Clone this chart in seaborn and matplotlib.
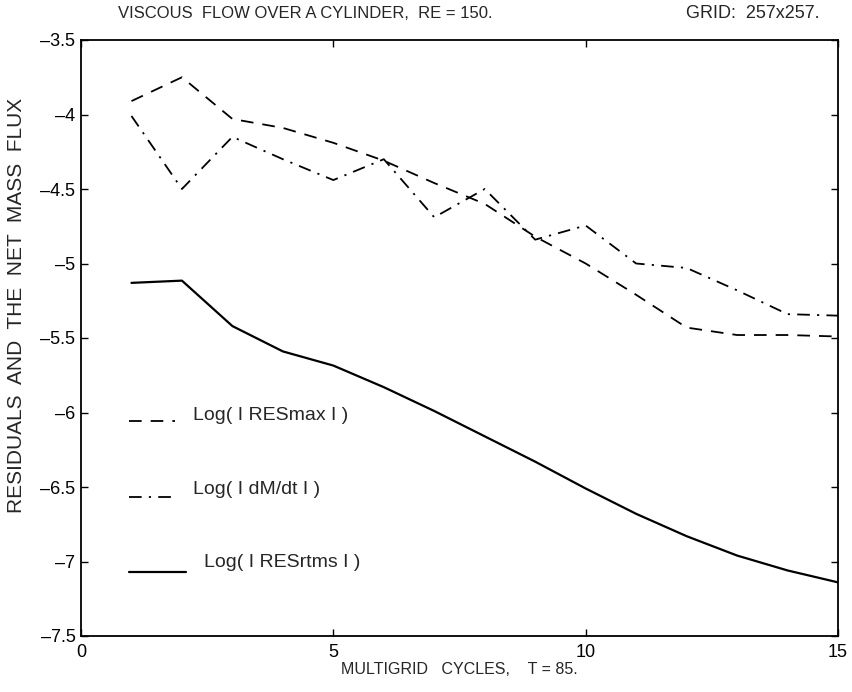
import numpy as np
import pandas as pd
import matplotlib
matplotlib.use("Agg")
import matplotlib.pyplot as plt
import seaborn as sns

# Multigrid cycle number
cycles = [1, 2, 3, 4, 5, 6, 7, 8, 9, 10, 11, 12, 13, 14, 15]

# log10 of the residuals and of the net mass flux
log_res_max = [-3.91, -3.75, -4.03, -4.09, -4.19, -4.31, -4.46, -4.60, -4.82, -5.00, -5.21, -5.43, -5.48, -5.48, -5.49]
log_dm_dt = [-4.01, -4.50, -4.15, -4.30, -4.44, -4.30, -4.69, -4.50, -4.84, -4.745, -5.00, -5.03, -5.18, -5.34, -5.35]
log_res_rms = [-5.13, -5.115, -5.42, -5.59, -5.685, -5.83, -5.99, -6.16, -6.33, -6.51, -6.68, -6.83, -6.96, -7.06, -7.14]

legend_labels = ["Log( I RESmax I )", "Log( I dM/dt I )", "Log( I RESrtms I )"]
x_ticks = [0, 5, 10, 15]
y_ticks = [-7.5, -7, -6.5, -6, -5.5, -5, -4.5, -4, -3.5]
y_tick_labels = ["\u20137.5", "\u20137", "\u20136.5", "\u20136", "\u20135.5",
                 "\u20135", "\u20134.5", "\u20134", "\u20133.5"]

sns.set_style("ticks")
plt.rcParams["font.family"] = ["Liberation Sans", "DejaVu Sans"]

W, H = 852, 692
fig = plt.figure(figsize=(W / 100, H / 100), dpi=100)
L, R, T, B = 81, 838, 40, 636
ax = fig.add_axes([L / W, 1 - B / H, (R - L) / W, (B - T) / H])

df = pd.DataFrame({
    "cycle": cycles * 3,
    "value": log_res_max + log_dm_dt + log_res_rms,
    "series": [legend_labels[0]] * 15 + [legend_labels[1]] * 15 + [legend_labels[2]] * 15,
})

styles = {
    legend_labels[0]: dict(ls=(0, (7, 5)), lw=1.3),
    legend_labels[1]: dict(ls=(0, (7, 4, 1.2, 4)), lw=1.3),
    legend_labels[2]: dict(ls="-", lw=1.6),
}

for name, st in styles.items():
    sub = df[df["series"] == name]
    sns.lineplot(data=sub, x="cycle", y="value", ax=ax, color="black",
                 linestyle=st["ls"], linewidth=st["lw"], legend=False)

# in-plot key: line sample followed by its label
key_rows = [
    (legend_labels[0], -6.06, -6.02, 2.22, 1.86),
    (legend_labels[1], -6.57, -6.52, 2.22, 1.86),
    (legend_labels[2], -7.07, -7.01, 2.44, 2.08),
]
for name, y_line, y_text, x_text, x_end in key_rows:
    st = styles[name]
    ax.plot([0.96, x_end], [y_line, y_line], color="black",
            linestyle=st["ls"], linewidth=st["lw"])
    ax.text(x_text, y_text, name, fontsize=14, va="center", ha="left")

ax.set_xlim(0, 15)
ax.set_ylim(-7.5, -3.5)
ax.set_xticks(x_ticks)
ax.set_yticks(y_ticks)
ax.set_yticklabels(y_tick_labels)
ax.tick_params(direction="in", length=5, width=1, top=True, right=True,
               labelsize=13, colors="black")
ax.tick_params(axis="x", pad=6)
ax.tick_params(axis="y", pad=4)
for sp in ax.spines.values():
    sp.set_visible(True)
    sp.set_linewidth(1.3)
    sp.set_color("black")

ax.set_xlabel("MULTIGRID   CYCLES,    T = 85.", fontsize=11.5, va="center")
ax.xaxis.set_label_coords(0.5, -(669 - B) / (B - T))
ax.set_ylabel("RESIDUALS  AND  THE  NET  MASS  FLUX", fontsize=15,
              va="center", ha="center")
ax.yaxis.set_label_coords(-(L - 17) / (R - L), 1 - (305 - T) / (B - T))

fig.text(118 / W, 1 - 13 / H, "VISCOUS  FLOW OVER A CYLINDER,  RE = 150.",
         fontsize=12, ha="left", va="center")
fig.text(820 / W, 1 - 13 / H, "GRID:  257x257.", fontsize=13, ha="right", va="center")

fig.savefig("out.png", dpi=100, facecolor="white")
